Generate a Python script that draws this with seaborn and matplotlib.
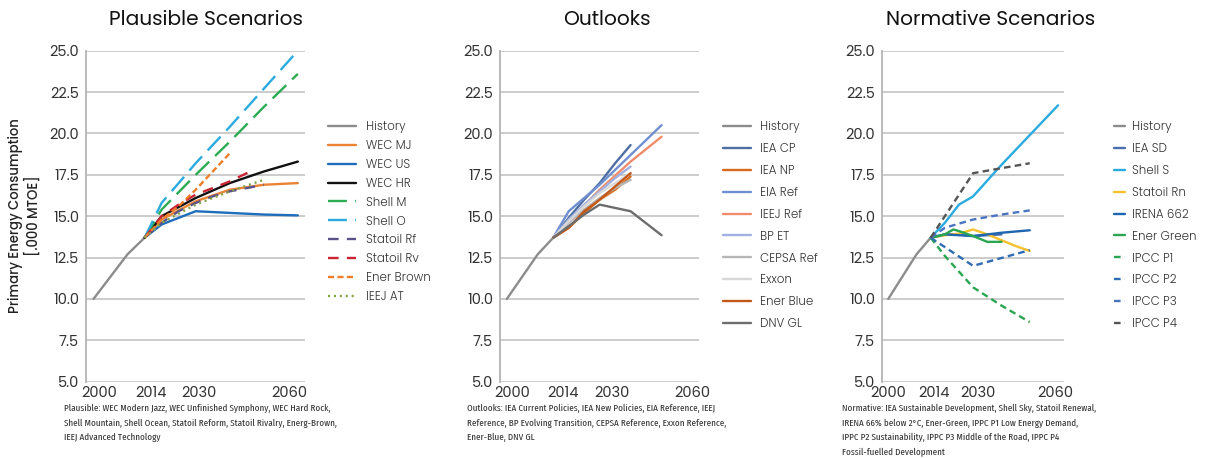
import matplotlib
matplotlib.use("Agg")
import matplotlib.pyplot as plt
import seaborn as sns

# ---------------- data ----------------
hist_years = [2000, 2010, 2015]
hist_vals = [10.0, 12.7, 13.7]

# Plausible scenarios
wec_mj_years = [2015, 2020, 2030, 2040, 2050, 2060]
wec_mj_vals = [13.7, 14.8, 15.9, 16.6, 16.9, 17.0]
wec_us_years = [2015, 2020, 2030, 2040, 2050, 2060]
wec_us_vals = [13.7, 14.5, 15.3, 15.2, 15.1, 15.05]
wec_hr_years = [2015, 2020, 2030, 2040, 2050, 2060]
wec_hr_vals = [13.7, 15.0, 16.1, 17.0, 17.7, 18.3]
shell_m_years = [2015, 2020, 2030, 2040, 2050, 2060]
shell_m_vals = [13.7, 15.4, 17.5, 19.5, 21.6, 23.6]
shell_o_years = [2015, 2020, 2030, 2040, 2050, 2060]
shell_o_vals = [13.7, 15.8, 18.2, 20.4, 22.7, 25.0]
statoil_rf_years = [2015, 2020, 2025, 2030, 2035, 2040, 2045, 2050]
statoil_rf_vals = [13.7, 14.6, 15.3, 15.8, 16.2, 16.5, 16.7, 16.9]
statoil_rv_years = [2015, 2020, 2025, 2030, 2035, 2040, 2047]
statoil_rv_vals = [13.7, 15.0, 15.7, 16.3, 16.7, 17.1, 17.8]
ener_brown_years = [2015, 2020, 2025, 2030, 2035, 2040]
ener_brown_vals = [13.7, 14.8, 15.6, 16.6, 17.7, 18.8]
ieej_at_years = [2015, 2020, 2030, 2040, 2050]
ieej_at_vals = [13.7, 14.6, 15.7, 16.5, 17.2]

# Outlooks
iea_cp_years = [2015, 2020, 2025, 2030, 2035, 2040]
iea_cp_vals = [13.7, 14.9, 16.0, 17.0, 18.2, 19.3]
iea_np_years = [2015, 2020, 2025, 2030, 2035, 2040]
iea_np_vals = [13.7, 14.3, 15.2, 16.0, 16.6, 17.4]
eia_ref_years = [2015, 2020, 2025, 2030, 2040, 2050]
eia_ref_vals = [13.7, 15.3, 16.1, 16.9, 18.7, 20.5]
ieej_ref_years = [2015, 2020, 2030, 2040, 2050]
ieej_ref_vals = [13.7, 14.7, 16.6, 18.3, 19.8]
bp_et_years = [2015, 2020, 2025, 2030, 2035, 2040]
bp_et_vals = [13.7, 14.8, 15.7, 16.5, 17.3, 18.0]
cepsa_years = [2015, 2020, 2025, 2030, 2035, 2040]
cepsa_vals = [13.7, 14.6, 15.4, 16.1, 16.7, 17.2]
exxon_years = [2015, 2020, 2025, 2030, 2035, 2040]
exxon_vals = [13.7, 14.7, 15.6, 16.4, 17.0, 17.6]
ener_blue_years = [2015, 2020, 2025, 2030, 2035, 2040]
ener_blue_vals = [13.7, 14.3, 15.3, 16.0, 16.8, 17.6]
dnv_years = [2015, 2020, 2025, 2030, 2040, 2050]
dnv_vals = [13.7, 14.4, 15.1, 15.7, 15.3, 13.85]

# Normative scenarios
iea_sd_years = [2015, 2020, 2025, 2030, 2040]
iea_sd_vals = [13.7, 13.9, 13.9, 13.8, 13.9]
shell_s_years = [2015, 2020, 2025, 2030, 2040, 2050, 2060]
shell_s_vals = [13.7, 14.6, 15.7, 16.2, 18.1, 19.9, 21.7]
statoil_rn_years = [2015, 2020, 2025, 2030, 2035, 2040, 2045, 2050]
statoil_rn_vals = [13.7, 13.85, 13.95, 14.2, 13.9, 13.55, 13.2, 12.9]
irena_years = [2015, 2020, 2030, 2040, 2050]
irena_vals = [13.7, 13.9, 13.8, 14.0, 14.15]
ener_green_years = [2015, 2020, 2023, 2025, 2030, 2035, 2040]
ener_green_vals = [13.7, 13.9, 14.2, 14.1, 13.8, 13.45, 13.45]
ipcc_p1_years = [2015, 2020, 2030, 2040, 2050]
ipcc_p1_vals = [13.7, 12.6, 10.7, 9.6, 8.6]
ipcc_p2_years = [2015, 2030, 2050]
ipcc_p2_vals = [13.7, 12.0, 12.95]
ipcc_p3_years = [2015, 2020, 2030, 2040, 2050]
ipcc_p3_vals = [13.7, 14.3, 14.8, 15.1, 15.35]
ipcc_p4_years = [2015, 2030, 2050]
ipcc_p4_vals = [13.7, 17.6, 18.2]

x_tick_labels = ["2000", "2014", "2030", "2060"]
y_ticks = [5.0, 7.5, 10.0, 12.5, 15.0, 17.5, 20.0, 22.5, 25.0]

titles = ["Plausible Scenarios", "Outlooks", "Normative Scenarios"]
captions = [
    "Plausible: WEC Modern Jazz, WEC Unfinished Symphony, WEC Hard Rock,\n"
    "Shell Mountain, Shell Ocean, Statoil Reform, Statoil Rivalry, Energ-Brown,\n"
    "IEEJ Advanced Technology",
    "Outlooks: IEA Current Policies, IEA New Policies, EIA Reference, IEEJ\n"
    "Reference, BP Evolving Transition, CEPSA Reference, Exxon Reference,\n"
    "Ener-Blue, DNV GL",
    "Normative: IEA Sustainable Development, Shell Sky, Statoil Renewal,\n"
    "IRENA 66% below 2\u00b0C, Ener-Green, IPPC P1 Low Energy Demand,\n"
    "IPPC P2 Sustainability, IPPC P3 Middle of the Road, IPPC P4\n"
    "Fossil-fuelled Development",
]

# ---------------- styles ----------------
SOLID = "-"
LONG = (0, (8, 3.5))
MED = (0, (4.5, 3.5))
SHORT = (0, (2.6, 1.4))
DOT = (0, (0.9, 1.6))
IPCC = (0, (2.8, 1.8))
GRAY = "#8c8c8c"

panel1 = [
    ("History", hist_years, hist_vals, GRAY, SOLID),
    ("WEC MJ", wec_mj_years, wec_mj_vals, "#ea8434", SOLID),
    ("WEC US", wec_us_years, wec_us_vals, "#1f6dbb", SOLID),
    ("WEC HR", wec_hr_years, wec_hr_vals, "#111111", SOLID),
    ("Shell M", shell_m_years, shell_m_vals, "#2dab52", LONG),
    ("Shell O", shell_o_years, shell_o_vals, "#2aabe0", LONG),
    ("Statoil Rf", statoil_rf_years, statoil_rf_vals, "#5c5188", MED),
    ("Statoil Rv", statoil_rv_years, statoil_rv_vals, "#c92533", MED),
    ("Ener Brown", ener_brown_years, ener_brown_vals, "#ee7d2a", SHORT),
    ("IEEJ AT", ieej_at_years, ieej_at_vals, "#86a64a", DOT),
]
panel2 = [
    ("History", hist_years, hist_vals, GRAY, SOLID),
    ("IEA CP", iea_cp_years, iea_cp_vals, "#4e6ea4", SOLID),
    ("IEA NP", iea_np_years, iea_np_vals, "#d86a1e", SOLID),
    ("EIA Ref", eia_ref_years, eia_ref_vals, "#6f8fd0", SOLID),
    ("IEEJ Ref", ieej_ref_years, ieej_ref_vals, "#ef8c6c", SOLID),
    ("BP ET", bp_et_years, bp_et_vals, "#a0b1e2", SOLID),
    ("CEPSA Ref", cepsa_years, cepsa_vals, "#b6b6b6", SOLID),
    ("Exxon", exxon_years, exxon_vals, "#d8d8d8", SOLID),
    ("Ener Blue", ener_blue_years, ener_blue_vals, "#c2581a", SOLID),
    ("DNV GL", dnv_years, dnv_vals, "#6d6d6d", SOLID),
]
panel3 = [
    ("History", hist_years, hist_vals, GRAY, SOLID),
    ("IEA SD", iea_sd_years, iea_sd_vals, "#4a6eae", SOLID),
    ("Shell S", shell_s_years, shell_s_vals, "#2aabe0", SOLID),
    ("Statoil Rn", statoil_rn_years, statoil_rn_vals, "#f5c12c", SOLID),
    ("IRENA 662", irena_years, irena_vals, "#1f66b0", SOLID),
    ("Ener Green", ener_green_years, ener_green_vals, "#2aa650", SOLID),
    ("IPCC P1", ipcc_p1_years, ipcc_p1_vals, "#2aa650", IPCC),
    ("IPCC P2", ipcc_p2_years, ipcc_p2_vals, "#2e6cb4", IPCC),
    ("IPCC P3", ipcc_p3_years, ipcc_p3_vals, "#4a74c0", IPCC),
    ("IPCC P4", ipcc_p4_years, ipcc_p4_vals, "#555555", IPCC),
]

# ---------------- layout ----------------
sns.set_theme(style="white")
MAIN = ["Poppins", "Lato", "DejaVu Sans"]
CAP = ["Fira Sans Extra Condensed", "Fira Sans Condensed", "Lato", "DejaVu Sans"]
plt.rcParams["font.family"] = MAIN

W, H = 1205, 458
fig = plt.figure(figsize=(W / 100, H / 100), dpi=100)


def fx(px):
    return px / W


def fy(py):
    return 1 - py / H


axes_px = [(86, 305), (500, 699), (882, 1064)]
top_px, bot_px = 50.7, 381.7
xtick_pos = [
    [2001.8, 2016.8, 2030.9, 2057.6],
    [2001.7, 2018.2, 2034.0, 2060.0],
    [2000.0, 2016.2, 2031.8, 2058.9],
]
title_x = [206, 607, 991]
legend_cfg = [  # (left px, top px, handlelength, handletextpad, labelspacing)
    (328, 121, 2.4, 0.8, 0.585),
    (723, 121, 2.4, 0.7, 0.84),
    (1114, 121, 0.95, 0.55, 0.84),
]
caption_x = [64, 467, 842]

panels = [panel1, panel2, panel3]
for i, series in enumerate(panels):
    l, r = axes_px[i]
    ax = fig.add_axes([fx(l), fy(bot_px), (r - l) / W, (bot_px - top_px) / H])
    for name, xs, ys, col, ls in series:
        sns.lineplot(x=xs, y=ys, ax=ax, color=col, linestyle=ls, linewidth=1.7,
                     label=name, estimator=None, sort=False)
    ax.set_xlim(1997.8, 2062.1)
    ax.set_ylim(5, 25)
    ax.set_yticks(y_ticks)
    ax.set_yticklabels([f"{v:.1f}" for v in y_ticks])
    ax.set_xticks(xtick_pos[i])
    ax.set_xticklabels(x_tick_labels)
    ax.tick_params(axis="both", length=0, labelsize=10.5, colors="#333333")
    ax.tick_params(axis="y", pad=5)
    ax.tick_params(axis="x", pad=3)
    ax.yaxis.grid(True, color="#c8c8c8", linewidth=1.3)
    ax.xaxis.grid(False)
    ax.set_axisbelow(True)
    for s in ["top", "right", "bottom"]:
        ax.spines[s].set_visible(False)
    ax.spines["left"].set_color("#b4b4b4")
    ax.spines["left"].set_linewidth(1.3)
    ax.set_xlabel("")
    ax.set_ylabel("")

    lx, ly, hl, htp, ls_ = legend_cfg[i]
    handles, labels = ax.get_legend_handles_labels()
    ax.legend(handles, labels, loc="upper left", bbox_to_anchor=(fx(lx), fy(ly)),
              bbox_transform=fig.transFigure, frameon=False, borderpad=0,
              borderaxespad=0, handlelength=hl, handletextpad=htp,
              labelspacing=ls_, labelcolor="#333333",
              prop={"family": MAIN, "size": 8.5, "weight": 300})

    fig.text(fx(title_x[i]), fy(20), titles[i], ha="center", va="center",
             fontsize=14.5, color="#111111")
    fig.text(fx(caption_x[i]), fy(404), captions[i], ha="left", va="top",
             fontsize=7.1, color="#333333", linespacing=1.75, family=CAP,
             fontweight=400)

fig.text(fx(25), fy(216), "Primary Energy Consumption\n[.000 MTOE]", rotation=90,
         ha="center", va="center", multialignment="center", fontsize=9.5,
         color="#222222", linespacing=1.15, fontweight=500)

fig.savefig("out.png", dpi=100)
